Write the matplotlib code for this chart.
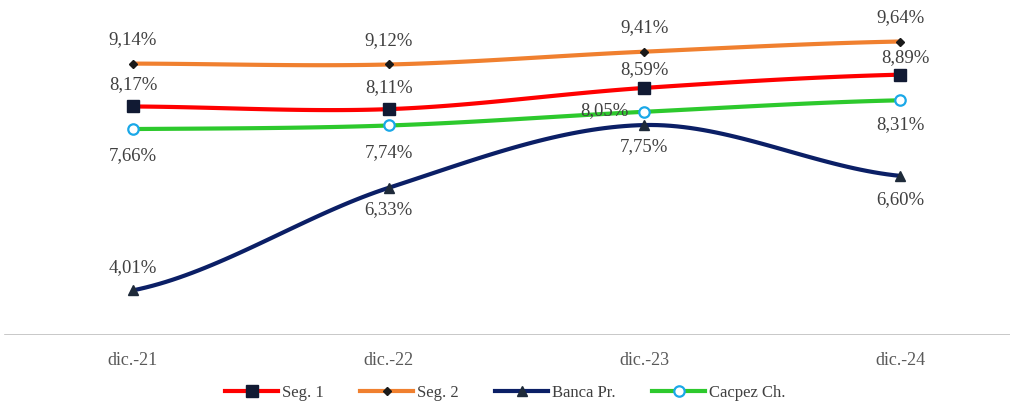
import numpy as np
import matplotlib.pyplot as plt
from matplotlib.lines import Line2D

plt.rcParams['font.family'] = ['Liberation Serif', 'DejaVu Serif']

cats = ["dic.-21", "dic.-22", "dic.-23", "dic.-24"]
seg1 = [8.17, 8.11, 8.59, 8.89]
seg2 = [9.14, 9.12, 9.41, 9.64]
banca = [4.01, 6.33, 7.75, 6.60]
cacpez = [7.66, 7.74, 8.05, 8.31]


def smooth(y, n=40):
    # excel-style smoothed line (catmull-rom)
    y = np.asarray(y, float)
    x = np.arange(len(y), dtype=float)
    p = np.concatenate([[y[0]], y, [y[-1]]])
    xs, ys = [], []
    for i in range(len(y) - 1):
        t = np.linspace(0, 1, n)
        p0, p1, p2, p3 = p[i], p[i + 1], p[i + 2], p[i + 3]
        c1 = p1 + (p2 - p0) / 6
        c2 = p2 - (p3 - p1) / 6
        yy = (1 - t) ** 3 * p1 + 3 * (1 - t) ** 2 * t * c1 + 3 * (1 - t) * t ** 2 * c2 + t ** 3 * p2
        xs.append(x[i] + t)
        ys.append(yy)
    return np.concatenate(xs), np.concatenate(ys)


fig = plt.figure(figsize=(10.1, 4.04), dpi=100)
ax = fig.add_axes([0, 1 - 335 / 404, 1, 335 / 404])
ax.set_xlim(-0.52, 3.43)
ax.set_ylim(3.0, 3.0 + 335 / 44.2)
for s in ax.spines.values():
    s.set_visible(False)
ax.set_yticks([])
ax.set_xticks(range(len(cats)))
ax.set_xticklabels(cats, fontsize=13, color="#595959")
ax.tick_params(axis="x", length=0, pad=12)
ax.axhline(3.0, color="#BFBFBF", lw=1.2, xmin=0.005, xmax=1)

series = [
    ("Seg. 1", seg1, "#FF0000", dict(marker="s", ms=8, mfc="#111A33", mec="#111A33")),
    ("Seg. 2", seg2, "#F0802F", dict(marker="D", ms=4.5, mfc="#1A1A1A", mec="#1A1A1A")),
    ("Banca Pr.", banca, "#0B1F66", dict(marker="^", ms=7.5, mfc="#1E2A3A", mec="#1E2A3A")),
    ("Cacpez Ch.", cacpez, "#2DC92D", dict(marker="o", ms=7.5, mfc="white", mec="#1AA8E8", mew=1.6)),
]

handles = []
x = np.arange(len(cats))
for name, vals, col, mk in series:
    sx, sy = smooth(vals)
    ax.plot(sx, sy, color=col, lw=3, solid_capstyle="round", zorder=2)
    ax.plot(x, vals, ls="none", zorder=3, **mk)
    handles.append(Line2D([0], [0], color=col, lw=3, **mk))

# label offsets (pixels)
offs = {
    "Seg. 1": [(0, 22), (0, 22), (0, 18), (5, 17)],
    "Seg. 2": [(0, 24), (0, 24), (0, 24), (0, 24)],
    "Banca Pr.": [(0, 23), (0, -22), (0, -22), (0, -24)],
    "Cacpez Ch.": [(0, -27), (0, -27), (-40, 1), (0, -24)],
}
for name, vals, col, mk in series:
    for i, v in enumerate(vals):
        dx, dy = offs[name][i]
        ax.annotate(f"{v:.2f}%".replace(".", ","), (i, v), xytext=(dx, dy),
                    textcoords="offset pixels", ha="center", va="center",
                    fontsize=13.5, color="#404040", zorder=4)

fig.legend(handles=handles, labels=[s[0] for s in series], loc="center",
           bbox_to_anchor=(0.5, 1 - 393 / 404), ncol=4, frameon=False,
           fontsize=12, handlelength=3.2, columnspacing=2.2, handletextpad=0.2,
           labelcolor="#404040")

fig.savefig("out.png", dpi=100)
